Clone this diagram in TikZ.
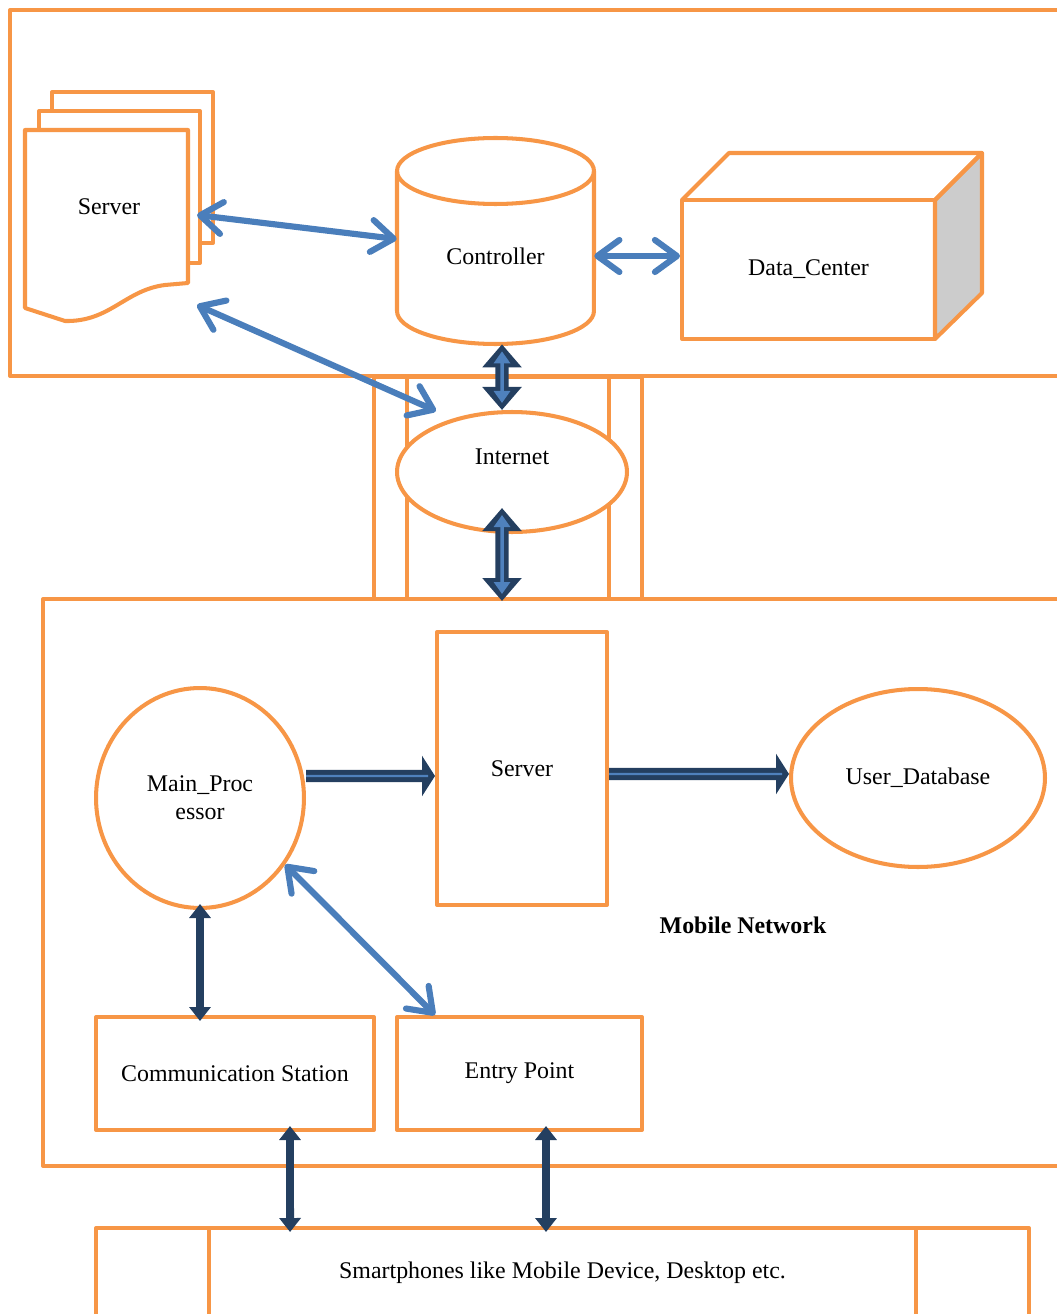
\documentclass[tikz,border=0pt]{standalone}
\usepackage{fontspec}
\setmainfont{Liberation Serif}
\usetikzlibrary{arrows.meta,shapes.geometric}
\definecolor{orng}{HTML}{F79646}
\definecolor{lblue}{HTML}{4A7EBB}
\definecolor{navy}{HTML}{243F60}
\definecolor{pipeblue}{HTML}{4F81BD}
\definecolor{sidegray}{HTML}{CCCCCC}

\begin{document}
\begin{tikzpicture}[x=0.02cm,y=-0.02cm,
	font=\fontsize{13.6}{16}\selectfont,
	obox/.style={draw=orng,line width=2.3pt,line join=round},
	wbox/.style={obox,fill=white,inner sep=0pt},
	barb/.style={draw=lblue,line width=3.5pt,line cap=round,{Straight Barb[length=4.4mm,width=6.4mm,round]}-{Straight Barb[length=4.4mm,width=6.4mm,round]}},
	thinpipe/.style={draw=navy,line width=4.5pt,shorten <=-.12cm,shorten >=-.12cm,{Triangle[length=2.8mm,width=4.2mm]}-{Triangle[length=2.8mm,width=4.2mm]}},
	pipe/.style={draw=navy,line width=7.6pt,{Triangle[length=4.6mm,width=7.6mm]}-{Triangle[length=4.6mm,width=7.6mm]}},
	pipein/.style={draw=pipeblue,line width=2pt,shorten <=1.4mm,shorten >=1.4mm,{Triangle[length=2.4mm,width=3.2mm]}-{Triangle[length=2.4mm,width=3.2mm]}},
	fat/.style={draw=navy,line width=7pt,-{Triangle[length=2.6mm,width=8mm]}},
	fatin/.style={draw=pipeblue,line width=1.3pt,shorten >=1.4mm}]
		\useasboundingbox (0,0) rectangle (1057,1314);
		\clip (0,0) rectangle (1057,1314);
		% frames
		\draw[obox] (10,10) rectangle (1080,376);
		\draw[obox] (43,599) rectangle (1080,1166);
		\draw[obox] (374,377) rectangle (642,599);
		\draw[obox] (407,377) -- (407,599) (609,377) -- (609,599);
		% server stack
		\draw[obox,fill=white] (52,92) rectangle (213,243);
		\draw[obox,fill=white] (39,111) rectangle (200,263);
		\draw[obox,fill=white] (25,130) -- (188,130) -- (188,283) -- (165,285) .. controls (125,290) and (110,322) .. (65,321) -- (25,308) -- cycle;
		\node (srv) at (109,207) {Server};
		% controller
		\draw[obox] (397,171) -- (397,311) arc (180:360:1.97cm and .66cm) -- (594,171);
		\draw[obox] (495.5,171) ellipse (1.97cm and .66cm);
		\node[minimum width=3.94cm,minimum height=3.52cm] (ctl) at (495.5,256) {Controller};
		% data center
		\draw[obox,fill=sidegray] (935,200) -- (982,153) -- (982,293) -- (935,339) -- cycle;
		\draw[obox] (682,200) -- (729,153) -- (982,153) -- (935,200);
		\node[obox,minimum width=5.06cm,minimum height=2.78cm] (dc) at (808.5,269.5) {Data\_Center};
		\node[wbox,ellipse,minimum width=4.6cm,minimum height=2.4cm,text depth=.62cm] (inet) at (512,472) {Internet};
		% mobile network
		\node[wbox,ellipse,minimum width=4.16cm,minimum height=4.4cm,align=center] (mp) at (200,798) {Main\_Proc\\essor};
		\node[wbox,minimum width=3.4cm,minimum height=5.46cm] (srv2) at (522,768.5) {Server};
		\node[wbox,ellipse,minimum width=5.08cm,minimum height=3.56cm] (udb) at (918,778) {User\_Database};
		\node[font=\fontsize{13.6}{16}\selectfont\bfseries] (mnet) at (743,925) {Mobile Network};
		\node[wbox,minimum width=5.56cm,minimum height=2.26cm] (cs) at (235,1073.5) {Communication Station};
		\node[wbox,minimum width=4.9cm,minimum height=2.26cm] (ep) at (519.5,1073.5) {Entry Point};
		\node[wbox,minimum width=18.66cm,minimum height=1.8cm] (dev) at (562.5,1273) {Smartphones like Mobile Device, Desktop etc.};
		\draw[obox] (209,1228) -- (209,1320) (916,1228) -- (916,1320);
		% arrows
		\coordinate (srvR) at (197,215);
		\coordinate (srvB) at (197,305);
		\coordinate (inetTip) at (436,411);
		\coordinate (mobTop) at (502,601);
		\draw[barb] (srvR) -- ([yshift=.34cm]ctl.west);
		\draw[barb] (srvB) -- (inetTip);
		\draw[barb] (ctl.east) -- (ctl.east -| dc.west);
		\draw[pipe] ([xshift=.13cm]ctl.south) -- ([xshift=-.2cm]inet.north);
		\draw[pipein] ([xshift=.13cm]ctl.south) -- ([xshift=-.2cm]inet.north);
		\draw[pipe] ([shift={(-.2cm,.52cm)}]inet.south) -- (mobTop);
		\draw[pipein] ([shift={(-.2cm,.52cm)}]inet.south) -- (mobTop);
		\draw[fat] ([yshift=.44cm]mp.east) -- ([yshift=-.15cm]srv2.west);
		\draw[fatin] ([yshift=.44cm]mp.east) -- ([yshift=-.15cm]srv2.west);
		\draw[fat] ([yshift=-.11cm]srv2.east) -- ([yshift=.08cm]udb.west);
		\draw[fatin] ([yshift=-.11cm]srv2.east) -- ([yshift=.08cm]udb.west);
		\draw[thinpipe] (mp.south) -- (mp.south |- cs.north);
		\draw[barb] (mp.-38) -- ([xshift=.8cm]ep.north west);
		\draw[thinpipe] ([xshift=1.1cm]cs.south) -- ([xshift=-5.45cm]dev.north);
		\draw[thinpipe] ([xshift=.53cm]ep.south) -- ([xshift=-.33cm]dev.north);
	\end{tikzpicture}
\end{document}
